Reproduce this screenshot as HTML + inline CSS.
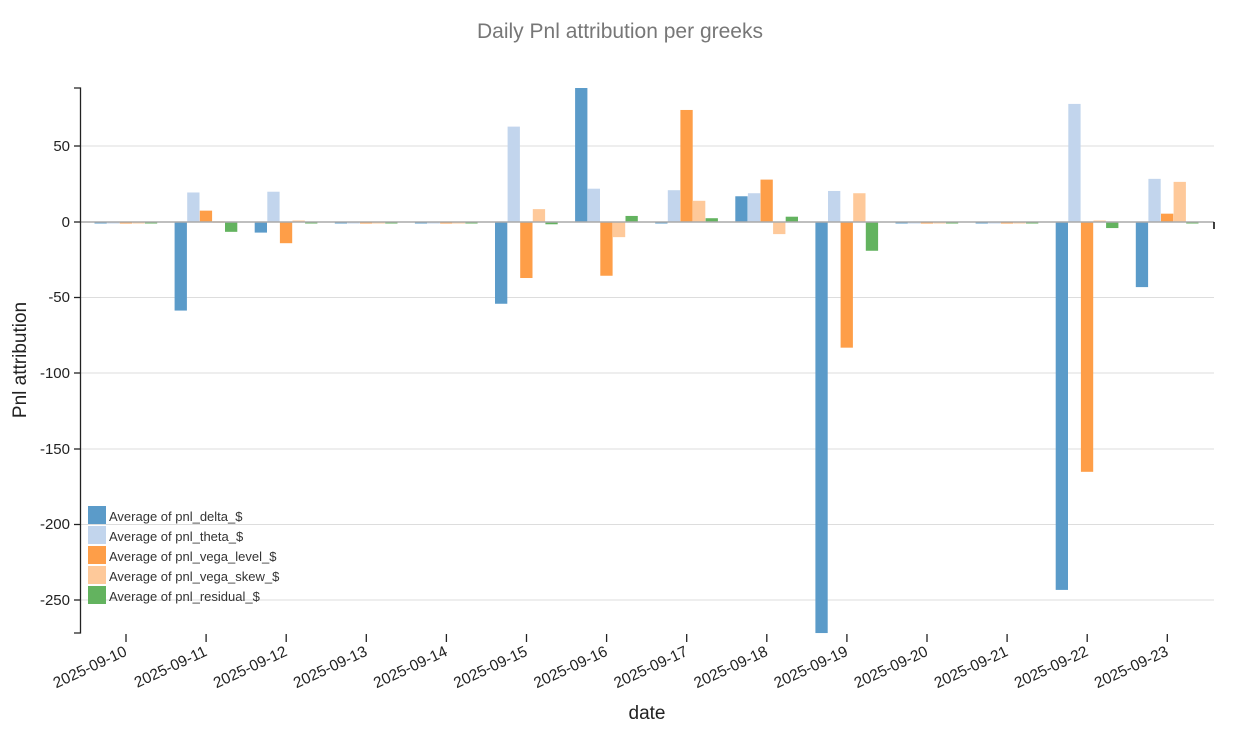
<!DOCTYPE html>
<html><head><meta charset="utf-8"><style>
body{margin:0;background:#fff;}
svg text{font-family:"Liberation Sans",sans-serif;}
</style></head><body>
<svg id="s" width="1240" height="742" xmlns="http://www.w3.org/2000/svg">
<text x="620" y="38" text-anchor="middle" font-size="21" fill="#777">Daily Pnl attribution per greeks</text>
<g stroke="#ddd" stroke-width="1">
<line x1="81" x2="1214" y1="146" y2="146"/>
<line x1="81" x2="1214" y1="297.5" y2="297.5"/>
<line x1="81" x2="1214" y1="373" y2="373"/>
<line x1="81" x2="1214" y1="449" y2="449"/>
<line x1="81" x2="1214" y1="524.5" y2="524.5"/>
<line x1="81" x2="1214" y1="600" y2="600"/>
</g>
<g id="bars"></g>
<line x1="81" x2="1214" y1="222" y2="222" stroke="#aaa" stroke-width="1.5"/>
<line x1="1214" x2="1214" y1="222" y2="229" stroke="#000" stroke-width="1.5"/>
<path d="M74 88H80.5V633H74" fill="none" stroke="#222" stroke-width="1.3"/>
<g stroke="#222" stroke-width="1.3">
<line x1="74" x2="80" y1="146" y2="146"/><line x1="74" x2="80" y1="222" y2="222"/>
<line x1="74" x2="80" y1="297.5" y2="297.5"/><line x1="74" x2="80" y1="373" y2="373"/>
<line x1="74" x2="80" y1="449" y2="449"/><line x1="74" x2="80" y1="524.5" y2="524.5"/>
<line x1="74" x2="80" y1="600" y2="600"/>
</g>
<g font-size="15" fill="#222" text-anchor="end">
<text x="70" y="151">50</text><text x="70" y="227">0</text><text x="70" y="302">-50</text>
<text x="70" y="378">-100</text><text x="70" y="454">-150</text><text x="70" y="529">-200</text><text x="70" y="605">-250</text>
</g>
<text transform="translate(26,360) rotate(-90)" text-anchor="middle" font-size="19" fill="#222">Pnl attribution</text>
<text x="647" y="719" text-anchor="middle" font-size="19" fill="#222">date</text>
<g id="xt" font-size="15.5" fill="#222" text-anchor="end"></g>
<g font-size="13" fill="#333">
<rect x="88" y="506" width="18" height="18" fill="#5b9bc9"/><text x="109" y="521">Average of pnl_delta_$</text>
<rect x="88" y="526" width="18" height="18" fill="#c2d5ed"/><text x="109" y="541">Average of pnl_theta_$</text>
<rect x="88" y="546" width="18" height="18" fill="#fe9e48"/><text x="109" y="561">Average of pnl_vega_level_$</text>
<rect x="88" y="566" width="18" height="18" fill="#fec99a"/><text x="109" y="581">Average of pnl_vega_skew_$</text>
<rect x="88" y="586" width="18" height="18" fill="#63b35f"/><text x="109" y="601">Average of pnl_residual_$</text>
</g>
</svg>
<script>
var d=[[-1,-1,-1,-1,-1],[-58.5,19.5,7.5,0.5,-6.5],[-7,20,-14,1,-1],[-1,-1,-1,-1,-1],[-1,-1,-1,-1,-1],
[-54,63,-37,8.5,-1.5],[88.5,22,-35.5,-10,4],[-1,21,74,14,2.5],[17,19,28,-8,3.5],[-271.5,20.5,-83,19,-19],
[-1,-1,-1,-1,-1],[-1,-1,-1,-1,-1],[-243,78,-165,1,-4],[-43,28.5,5.5,26.5,-1]];
var c=["#5b9bc9","#c2d5ed","#fe9e48","#fec99a","#63b35f"];
var ns="http://www.w3.org/2000/svg",g=document.getElementById("bars"),xt=document.getElementById("xt");
var dates=["2025-09-10","2025-09-11","2025-09-12","2025-09-13","2025-09-14","2025-09-15","2025-09-16","2025-09-17","2025-09-18","2025-09-19","2025-09-20","2025-09-21","2025-09-22","2025-09-23"];
d.forEach(function(r,i){var cx=126+80.1*i;
 r.forEach(function(v,s){var e=document.createElementNS(ns,"rect");var y0=222,y1=222-1.514*v;
 e.setAttribute("x",cx-31.5+12.6*s);e.setAttribute("width",12.3);e.setAttribute("y",Math.min(y0,y1));
 e.setAttribute("height",Math.max(1.5,Math.abs(y1-y0)));e.setAttribute("fill",c[s]);g.appendChild(e);});
 var l=document.createElementNS(ns,"line");l.setAttribute("x1",cx);l.setAttribute("x2",cx);l.setAttribute("y1",634);l.setAttribute("y2",642);l.setAttribute("stroke","#222");l.setAttribute("stroke-width","1.3");xt.appendChild(l);
 var t=document.createElementNS(ns,"text");t.setAttribute("transform","translate("+(cx+2)+",655) rotate(-25)");t.textContent=dates[i];xt.appendChild(t);
});
</script>
</body></html>
